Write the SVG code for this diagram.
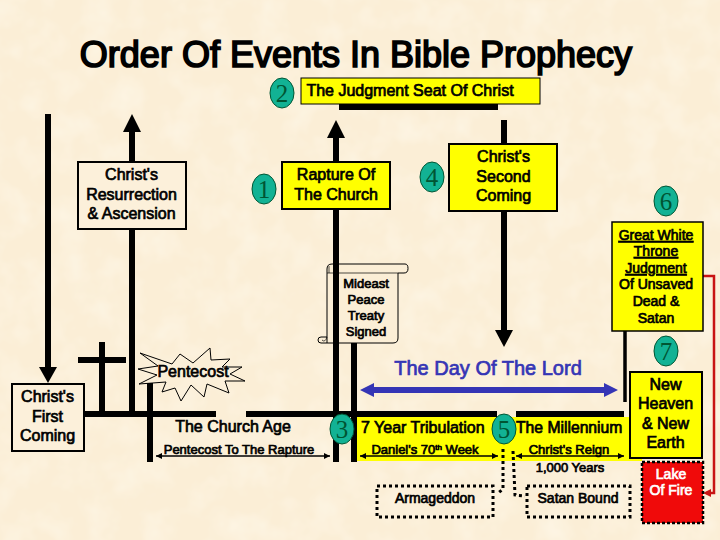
<svg xmlns="http://www.w3.org/2000/svg" width="720" height="540" viewBox="0 0 720 540">
<style>
text{font-family:"Liberation Sans",Arial,sans-serif;fill:#000;stroke:#000;stroke-width:.7;text-anchor:middle}
.t16{font-size:16px}.t14{font-size:14px}.t13{font-size:13px}
.u{text-decoration:underline}
.l{text-anchor:start}
.num{font-family:"Liberation Serif","Times New Roman",serif;font-size:25px;stroke-width:0;fill:#053}
.c{fill:#12b294;stroke:#053;stroke-width:1}
.bar{stroke:#000;stroke-width:6;fill:none}
.y{fill:#ff0;stroke:#000;stroke-width:2}
.w{fill:#fcf0da;stroke:#000;stroke-width:2}
.dot{fill:none;stroke:#000;stroke-width:3;stroke-dasharray:3 3}
.thin{stroke:#000;stroke-width:1.5;fill:none;marker-start:url(#ms);marker-end:url(#me)}
.wt{fill:#fff;stroke:#fff}
</style>
<defs>
<marker id="me" markerWidth="7" markerHeight="6" refX="6" refY="3" orient="auto" markerUnits="userSpaceOnUse"><path d="M0 0L6 3L0 6z" fill="#000"/></marker>
<marker id="ms" markerWidth="7" markerHeight="6" refX="0" refY="3" orient="auto" markerUnits="userSpaceOnUse"><path d="M6 0L0 3L6 6z" fill="#000"/></marker>
<filter id="parchment" x="0" y="0" width="100%" height="100%"><feTurbulence type="fractalNoise" baseFrequency=".035" numOctaves="3" seed="4"/><feColorMatrix type="matrix" values="0 0 0 0 1  0 0 0 0 .97  0 0 0 0 .88  .9 0 0 0 -.36"/></filter>
</defs>
<rect id="background" width="720" height="540" fill="#fbeed6"/>
<rect id="background-mottle" width="720" height="540" filter="url(#parchment)"/>
<rect id="tribulation-strip" x="357" y="417" width="285" height="44" fill="#ff0"/>
<g id="connectors">
<path class="bar" d="M48 114V370M132 130V414M84 414H216M246 414H497M516 414H624M102 342V411M78 360H126M150 383V462M336 136V462M354 343V462M504 143V332M339 107H498"/>
<path d="M39 367H57L48 383zM123 132L132 114L141 132zM327 138L336 120L345 138zM495 330H513L504 347z"/>
<path d="M504 120V143" class="bar"/>
<path d="M625 331V402" stroke="#000" stroke-width="3.500" fill="none"/>
<path d="M360 390L374 383V387H604V383L618 390L604 397V393H374V397z" fill="#3535b5"/>
<path class="thin" d="M156 456H330"/>
<path class="thin" d="M360 456H498"/>
<path class="thin" d="M516 456H624"/>
<path d="M703 276H714V493H706" fill="none" stroke="#c81414" stroke-width="2.500"/>
<path d="M703 493L711 489V497z" fill="#c81414"/>
<path class="dot" d="M503 449V489L497 494M513 451L515 495L525 496"/>
</g>
<text id="title" x="356" y="67" font-size="36" style="stroke-width:1.700">Order Of Events In Bible Prophecy</text>
<g id="node-judgment"><rect x="301" y="78" width="239" height="26" fill="#ff0" stroke="#000"/><text class="t16" x="410" y="96">The Judgment Seat Of Christ</text></g>
<g id="num-2"><ellipse class="c" cx="282" cy="93" rx="12" ry="15"/><text class="num" x="282" y="102">2</text></g>
<g id="node-resurrection"><rect class="w" x="78" y="162" width="108" height="67"/><text class="t16" x="131.500" y="180">Christ's</text><text class="t16" x="131.500" y="200">Resurrection</text><text class="t16" x="131.500" y="219">&amp; Ascension</text></g>
<g id="num-1"><ellipse class="c" cx="264" cy="189" rx="12" ry="15"/><text class="num" x="264" y="198">1</text></g>
<g id="node-rapture"><rect class="y" x="282" y="162" width="108" height="47"/><text class="t16" x="336" y="180">Rapture Of</text><text class="t16" x="336" y="200">The Church</text></g>
<g id="num-4"><ellipse class="c" cx="432" cy="177" rx="12" ry="15"/><text class="num" x="432" y="186">4</text></g>
<g id="node-second-coming"><rect class="y" x="449" y="144" width="108" height="67"/><text class="t16" x="503.500" y="162">Christ's</text><text class="t16" x="503.500" y="182">Second</text><text class="t16" x="503.500" y="201">Coming</text></g>
<g id="num-6"><ellipse class="c" cx="666" cy="201" rx="12" ry="15"/><text class="num" x="666" y="210">6</text></g>
<g id="node-great-white"><rect x="612" y="222" width="91" height="109" fill="#ff0" stroke="#000" stroke-width="1.500"/><text class="t14 u" x="656" y="240">Great White</text><text class="t14 u" x="656" y="256">Throne</text><text class="t14 u" x="656" y="273">Judgment</text><text class="t14" x="656" y="289">Of Unsaved</text><text class="t14" x="656" y="306">Dead &amp;</text><text class="t14" x="656" y="323">Satan</text></g>
<g id="node-treaty">
<path d="M327 343V269Q327 264 332 264H405Q408 264 408 268.500Q408 273 404 273H398V338Q398 343 393 343H321Q318 343 318 340Q318 337 321 337H327" fill="#fbeed6" stroke="#000"/>
<path d="M327 273H398M329 266V273M327 337Q325 343 322 340" fill="none" stroke="#000" stroke-width=".7"/>
<path class="bar" d="M336 255V343"/>
<text class="t13" x="366" y="288">Mideast</text><text class="t13" x="366" y="304">Peace</text><text class="t13" x="366" y="320">Treaty</text><text class="t13" x="366" y="336">Signed</text></g>
<text x="488" y="375" style="fill:#3535b5;stroke:#3535b5;font-size:20px">The Day Of The Lord</text>
<g id="num-7"><ellipse class="c" cx="666" cy="351" rx="12" ry="15"/><text class="num" x="666" y="360">7</text></g>
<g id="node-pentecost"><path fill="none" stroke="#000" d="M140 353L172 364L180 354L193 363L210 348L211 360L230 359L222 367L242 367L230 374L245 381L225 381L229 393L207 384L204 397L191 385L181 401L175 388L162 392L166 382L139 384L157 375L138 369L158 366z"/><text class="t16" x="193" y="377">Pentecost</text></g>
<g id="node-first-coming"><rect class="w" x="12" y="384" width="72" height="67"/><text class="t16" x="47.500" y="402">Christ's</text><text class="t16" x="47.500" y="422">First</text><text class="t16" x="47.500" y="441">Coming</text></g>
<text class="t16" x="233" y="432">The Church Age</text>
<text class="t13" x="239" y="454">Pentecost To The Rapture</text>
<g id="num-3"><ellipse class="c" cx="342" cy="429" rx="12" ry="15"/><text class="num" x="342" y="438">3</text></g>
<text class="t16 l" x="361" y="433">7 Year Tribulation</text>
<g id="num-5"><ellipse class="c" cx="504" cy="429" rx="12" ry="15"/><text class="num" x="504" y="438">5</text></g>
<text class="l" x="516" y="433" style="font-size:15.700px">The Millennium</text>
<text class="t13" x="425" y="454">Daniel's 70<tspan font-size="8" dy="-4">th</tspan><tspan dy="4"> Week</tspan></text>
<text class="t13" x="569" y="454">Christ's Reign</text>
<text class="t13" x="570" y="472">1,000 Years</text>
<g id="node-new-heaven"><rect class="y" x="630" y="372" width="72" height="86"/><text class="t16" x="665.500" y="390">New</text><text class="t16" x="665.500" y="409">Heaven</text><text class="t16" x="665.500" y="429">&amp; New</text><text class="t16" x="665.500" y="448">Earth</text></g>
<g id="node-armageddon"><rect class="dot" x="377" y="486" width="116" height="31"/><text class="t14" x="435" y="503">Armageddon</text></g>
<g id="node-satan-bound"><rect class="dot" x="527" y="486" width="103" height="31"/><text class="t14" x="578" y="503">Satan Bound</text></g>
<g id="node-lake"><rect x="642" y="462" width="61" height="61" fill="#f00a0a" stroke="#000" stroke-width="2.500" stroke-dasharray="3 2"/><text class="t14 wt" x="671" y="479">Lake</text><text class="t14 wt" x="671" y="495">Of Fire</text></g>
</svg>
